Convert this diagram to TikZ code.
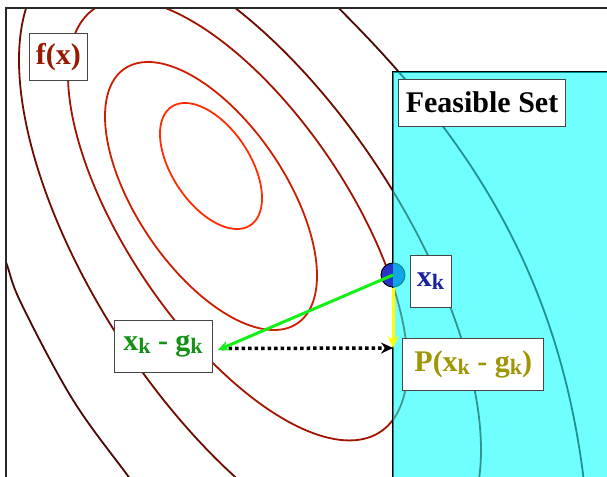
\documentclass[tikz,border=0pt]{standalone}
\usepackage{fontspec}
\setmainfont{Liberation Serif}
\usetikzlibrary{arrows.meta}
\definecolor{cEa}{RGB}{255,45,0}
\definecolor{cEb}{RGB}{205,30,0}
\definecolor{cEc}{RGB}{160,20,0}
\definecolor{cEd}{RGB}{110,12,0}
\definecolor{cEe}{RGB}{75,8,5}
\definecolor{framecol}{RGB}{40,40,40}
\definecolor{boxgray}{RGB}{70,70,70}
\definecolor{fxcol}{RGB}{150,25,0}
\definecolor{xkcol}{RGB}{25,35,160}
\definecolor{xgcol}{RGB}{20,145,20}
\definecolor{pcol}{RGB}{158,150,5}
\definecolor{dotblue}{RGB}{40,50,200}
\definecolor{arrgreen}{RGB}{20,240,20}
\definecolor{arryellow}{RGB}{255,255,0}
\definecolor{feascyan}{RGB}{0,255,255}
\newcommand{\drawoval}[6]{\draw[#6] plot[domain=0:360,samples=181,smooth,variable=\t] ({#1+#3*cos(\t)},{#2+#4*cos(\t)+#5*sin(\t)}) -- cycle;}
\newcommand{\sk}{\raisebox{-3pt}{\fontsize{22}{22}\selectfont k}}
\begin{document}
\begin{tikzpicture}[x=1pt,y=-1pt,
  contour/.style={line width=1.8pt},
  labelbox/.style={draw=boxgray, fill=white, line width=1pt, inner sep=0pt,
    font=\bfseries\fontsize{30}{30}\selectfont},
  greenarrow/.style={arrgreen, line width=3pt, -{Stealth[length=11pt,width=10pt]}},
  yellowarrow/.style={arryellow, line width=3pt, -{Stealth[length=12pt,width=11pt]}},
  dottedarrow/.style={black, line width=3.5pt, dash pattern=on 3.5pt off 3pt, -{Stealth[length=12pt,width=11pt]}}
]
\useasboundingbox (0,0) rectangle (607,476);
\fill[white] (0,0) rectangle (607,476);
\begin{scope}
  \clip (6,8) rectangle (620,490);
  \drawoval{211}{166}{51}{32.1}{54.2}{contour,cEa}
  \drawoval{211}{196}{106}{79.6}{107.8}{contour,cEb}
  \drawoval{237.75}{220}{169.75}{145}{166}{contour,cEc}
  \drawoval{250}{255}{231}{195}{235}{contour,cEd}
  \draw[contour,cEe] (318,-12) .. controls (462,126) and (563,270) .. (586,500);
  \draw[contour,cEe] plot[smooth, tension=0.6] coordinates {(-5,228) (7,265) (22,305) (73,400) (128,476) (142,496)};
\end{scope}
\draw[framecol, line width=2pt] (6,8) rectangle (640,500);
\draw[black, line width=1.6pt] (393,72) rectangle (650,520);
\node[circle, draw=black, fill=dotblue, line width=1pt, minimum size=24pt, inner sep=0pt] (xk) at (393,275) {};
\fill[feascyan, opacity=0.56] (393,72) rectangle (650,520);
\coordinate (ptip) at (393,348);
\coordinate (gtip) at (218,350);
\coordinate (dstart) at (222,348.5);
\draw[dottedarrow] (dstart) -- (ptip);
\draw[yellowarrow] (xk.south) -- (ptip);
\draw[greenarrow] (xk.center) -- (gtip);
\node[labelbox, minimum width=58pt, minimum height=47.4pt, text=fxcol] (fx) at (58.3,57) {f(x)};
\node[labelbox, minimum width=167.4pt, minimum height=46.7pt, text=black] (fs) at (482,102.7) {Feasible Set};
\node[labelbox, minimum width=41pt, minimum height=52pt, text=xkcol] (xklabel) at (430.5,281) {x\sk};
\node[labelbox, minimum width=98pt, minimum height=51.5pt, text=xgcol] (xg) at (163,346.5) {x\sk{} - g\sk};
\node[labelbox, minimum width=141.3pt, minimum height=52.2pt, text=pcol] (pl) at (473.3,364.6) {P(x\sk{} - g\sk)};
\end{tikzpicture}
\end{document}
